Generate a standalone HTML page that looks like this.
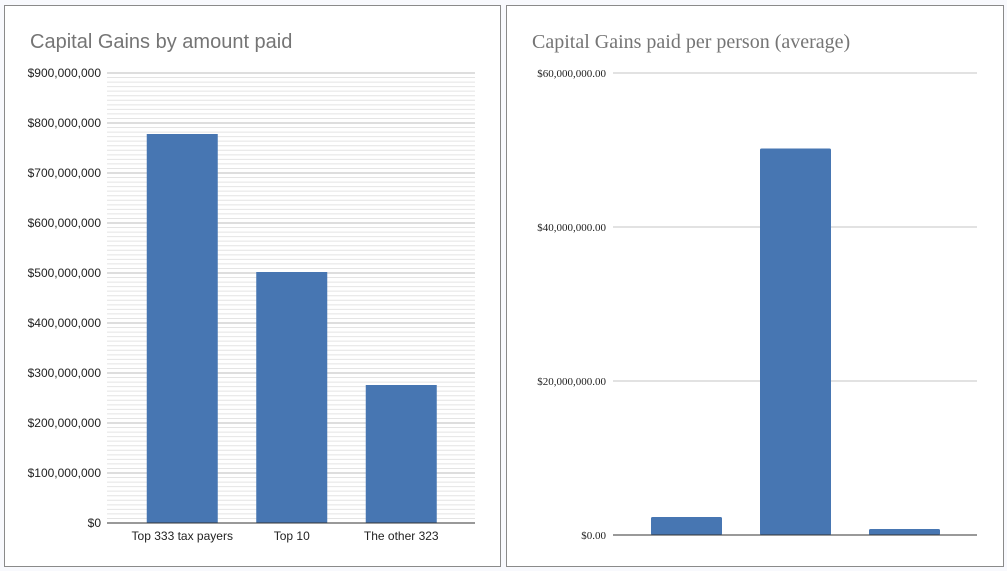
<!DOCTYPE html>
<html><head><meta charset="utf-8">
<style>
body{margin:0;background:#f8f9fd;width:1007px;height:571px;overflow:hidden;}
svg{display:block;}
</style></head><body>
<svg width="1007" height="571" xmlns="http://www.w3.org/2000/svg">
<rect x="4.5" y="5.5" width="496" height="561" fill="#fff" stroke="#8a8a8a"/>
<rect x="506.5" y="5.5" width="497" height="561" fill="#fff" stroke="#8a8a8a"/>
<text x="30" y="48" font-family="Liberation Sans, sans-serif" font-size="20" fill="#757575">Capital Gains by amount paid</text>
<text x="532" y="48" font-family="Liberation Serif, serif" font-size="20" fill="#757575">Capital Gains paid per person (average)</text>
<g id="left"></g>
<g id="right"></g>
</svg>
<script>
const leftCategories=["Top 333 tax payers","Top 10","The other 323"];
const leftValues=[778000000,502000000,276000000];
const leftTicks=[0,100000000,200000000,300000000,400000000,500000000,600000000,700000000,800000000,900000000];
const leftTickLabels=["$0","$100,000,000","$200,000,000","$300,000,000","$400,000,000","$500,000,000","$600,000,000","$700,000,000","$800,000,000","$900,000,000"];
const rightCategories=["Top 333 tax payers","Top 10","The other 323"];
const rightValues=[2340000,50200000,780000];
const rightTicks=[0,20000000,40000000,60000000];
const rightTickLabels=["$0.00","$20,000,000.00","$40,000,000.00","$60,000,000.00"];
const NS="http://www.w3.org/2000/svg";
function mk(p,tag,a){const e=document.createElementNS(NS,tag);for(const k in a)e.setAttribute(k,a[k]);p.appendChild(e);return e;}
// left
(function(){
 const g=document.getElementById('left');
 const x0=107,x1=475,y0=523,yT=73,max=900000000;
 const bandStart=127.5,step=109.5,bw=71;
 const y=v=>y0-(v/max)*(y0-yT);
 const minor=max/9/11;
 for(let i=1;i<99;i++){if(i%11===0)continue;const yy=y(i*minor);
  const l=mk(g,'line',{x1:x0,x2:x1,y1:yy,y2:yy,stroke:'#e4e4e4','stroke-width':1});
  
  }
 leftTicks.forEach((t,i)=>{const yy=y(t);
  if(t>0){const l=mk(g,'line',{x1:x0,x2:x1,y1:yy,y2:yy,stroke:'#bdbdbd','stroke-width':1});
   
   }
  const tx=mk(g,'text',{x:101,y:yy+4,'text-anchor':'end','font-family':'Liberation Sans, sans-serif','font-size':12,fill:'#222'});
  tx.textContent=leftTickLabels[i];
  
  });
 leftValues.forEach((v,i)=>{const cx=bandStart+step*(i+0.5);
  const r=mk(g,'rect',{x:cx-bw/2,y:y(v),width:bw,height:y0-y(v),fill:'#4776b2'});
  
  
  const t=mk(g,'text',{x:cx,y:540,'text-anchor':'middle','font-family':'Liberation Sans, sans-serif','font-size':12,fill:'#222'});
  t.textContent=leftCategories[i];
  
  });
 const ax=mk(g,'line',{x1:x0,x2:x1,y1:y0,y2:y0,stroke:'#333','stroke-width':1});
 
 
})();
// right
(function(){
 const g=document.getElementById('right');
 const x0=613,x1=977,y0=535,yT=73,max=60000000;
 const bandStart=632,step=109,bw=71;
 const y=v=>y0-(v/max)*(y0-yT);
 rightTicks.forEach((t,i)=>{const yy=y(t);
  if(t>0){const l=mk(g,'line',{x1:x0,x2:x1,y1:yy,y2:yy,stroke:'#c4c4c4','stroke-width':1});
   
   }
  const tx=mk(g,'text',{x:606,y:yy+4,'text-anchor':'end','font-family':'Liberation Serif, serif','font-size':11,fill:'#222'});
  tx.textContent=rightTickLabels[i];
  
  });
 rightValues.forEach((v,i)=>{const cx=bandStart+step*(i+0.5);
  const r=mk(g,'rect',{x:cx-bw/2,y:y(v),width:bw,height:y0-y(v),fill:'#4776b2',rx:1.5});
  
  });
 const ax=mk(g,'line',{x1:x0,x2:x1,y1:y0,y2:y0,stroke:'#333','stroke-width':1});
 
 
})();
</script>
</body></html>
